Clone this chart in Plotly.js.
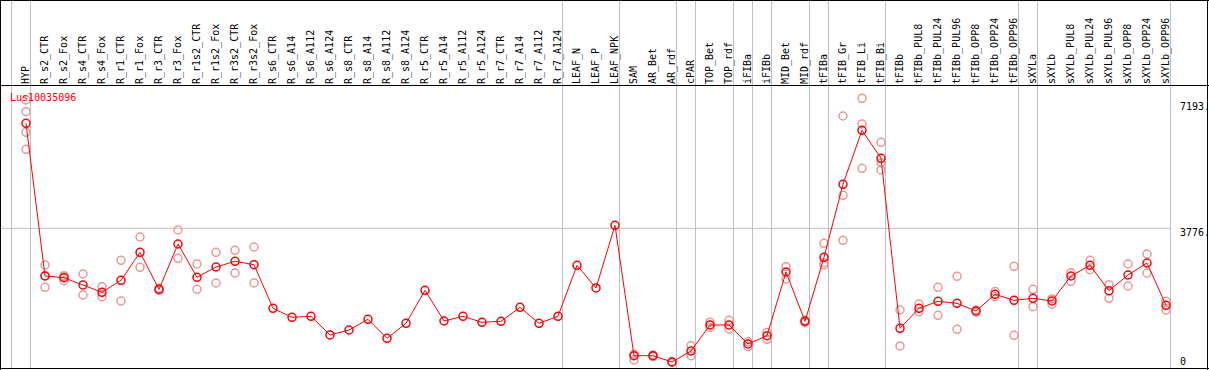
<!DOCTYPE html>
<html>
<head>
<meta charset="utf-8">
<script src="https://cdn.plot.ly/plotly-3.0.1.min.js"></script>
<style>
  html, body { margin: 0; padding: 0; background: #ffffff; }
  #chart { width: 1209px; height: 370px; }
</style>
</head>
<body>
<div id="chart"></div>
<script>
// ---------- data ----------
const geneName = "Lus10035096";

const categories = [
  "HYP", "R_s2_CTR", "R_s2_Fox", "R_s4_CTR", "R_s4_Fox", "R_r1_CTR", "R_r1_Fox",
  "R_r3_CTR", "R_r3_Fox", "R_r1s2_CTR", "R_r1s2_Fox", "R_r3s2_CTR", "R_r3s2_Fox",
  "R_s6_CTR", "R_s6_A14", "R_s6_A112", "R_s6_A124", "R_s8_CTR", "R_s8_A14",
  "R_s8_A112", "R_s8_A124", "R_r5_CTR", "R_r5_A14", "R_r5_A112", "R_r5_A124",
  "R_r7_CTR", "R_r7_A14", "R_r7_A112", "R_r7_A124", "LEAF_N", "LEAF_P", "LEAF_NPK",
  "SAM", "AR_Bet", "AR_rdf", "cPAR", "TOP_Bet", "TOP_rdf", "iFIBa", "iFIBb",
  "MID_Bet", "MID_rdf", "tFIBa", "tFIB_Gr", "tFIB_Li", "tFIB_Bi", "tFIBb",
  "tFIBb_PUL8", "tFIBb_PUL24", "tFIBb_PUL96", "tFIBb_OPP8", "tFIBb_OPP24", "tFIBb_OPP96",
  "sXYLa", "sXYLb", "sXYLb_PUL8", "sXYLb_PUL24", "sXYLb_PUL96", "sXYLb_OPP8",
  "sXYLb_OPP24", "sXYLb_OPP96"
];

const meanValues = [
  6622, 2483, 2437, 2239, 2041, 2366, 3125,
  2122, 3350, 2447, 2727, 2881, 2789,
  1607, 1363, 1391, 884, 1019, 1309,
  794, 1201, 2095, 1263, 1391, 1228,
  1255, 1634, 1201, 1391, 2773, 2158, 3857,
  323, 323, 152, 450, 1155, 1155, 640, 865,
  2591, 1255, 2990, 4969, 6432, 5674, 1065,
  1607, 1797, 1743, 1534, 1987, 1824,
  1878, 1805, 2483, 2773, 2085, 2510,
  2835, 1689
];

// individual replicate values (null = no replicate shown)
const rep1 = [
  7254, 2781, 2491, 2537, 2193, 2908, 3540,
  2150, 3730, 2808, 3125, 3180, 3269,
  null, null, null, null, null, null,
  null, null, null, null, null, null,
  null, null, null, null, null, null, null,
  206, 300, 140, 594, 1230, 1282, 567, 767,
  2735, 1230, 3369, 6820, 7300, 6107, 1561,
  1724, 2177, 2475, 1510, 2060, 2746,
  2122, 1860, 2573, 2908, 2247, 2808,
  3079, 1797
];
const rep2 = [
  6937, 2177, 2356, 1968, 1922, 1805, 2719,
  2095, 2963, 2122, 2293, 2564, 2293,
  null, null, null, null, null, null,
  null, null, null, null, null, null,
  null, null, null, null, null, null, null,
  360, 340, 165, 323, 1090, 1046, 700, 950,
  2402, 1280, 2844, 4671, 6603, 5554, 586,
  1516, 1418, 1038, 1560, 1920, 876,
  1651, 1720, 2339, 2654, 1878, 2212,
  2564, 1561
];
const rep3 = [
  6378, 2490, 2464, null, null, null, null,
  null, null, null, null, null, null,
  null, null, null, null, null, null,
  null, null, null, null, null, null,
  null, null, null, null, null, null, null,
  null, null, null, null, null, null, null, null,
  null, null, 2781, 3451, 5402, 5356, null,
  null, null, null, null, null, null,
  null, null, null, null, null, null,
  null, null
];
const rep4 = [
  5917, null, null, null, null, null, null,
  null, null, null, null, null, null,
  null, null, null, null, null, null,
  null, null, null, null, null, null,
  null, null, null, null, null, null, null,
  null, null, null, null, null, null, null, null,
  null, null, null, null, null, null, null,
  null, null, null, null, null, null,
  null, null, null, null, null, null,
  null, null
];

// indexes of categories followed by a vertical separator line
const separatorAfter = [0, 28, 31, 34, 35, 37, 38, 39, 41, 42, 45, 52, 53, 60];
const separatorBefore = [0];

const yTickVals = [7193, 3776, 0];
const yTickLabels = ["7193.", "3776.", "0"];
const gridValue = 3776;

// ---------- build ----------
const idx = categories.map((_, i) => i);

const repX = [], repY = [];
[rep1, rep2, rep3, rep4].forEach(arr => {
  arr.forEach((v, i) => { if (v !== null) { repX.push(i); repY.push(v); } });
});

const traceReps = {
  x: repX, y: repY, type: "scatter", mode: "markers",
  marker: { symbol: "circle-open", size: 8, color: "rgb(238,150,150)", line: { width: 1.5 } },
  hoverinfo: "skip", showlegend: false, cliponaxis: false
};
const traceMean = {
  x: idx, y: meanValues, type: "scatter", mode: "lines+markers",
  line: { color: "#ff0000", width: 1 },
  marker: { symbol: "circle-open", size: 8, color: "#ff0000", line: { width: 1.5 } },
  showlegend: false, cliponaxis: false
};

const W = 1209, H = 370;
const mL = 0, mR = 38, mT = 86, mB = 2;
const plotW = W - mL - mR, plotH = H - mT - mB;
const py = p => (H - mB - p) / plotH;   // pixel row -> paper y
const px = p => (p - mL) / plotW;       // pixel col -> paper x

const GRID = "#c0c0c0";
const shapes = [];
const sepOffset = 4.5 / 19;
separatorAfter.forEach(i => {
  shapes.push({ type: "line", xref: "x", yref: "paper", x0: i + sepOffset, x1: i + sepOffset,
    y0: py(368.5), y1: py(0), line: { color: GRID, width: 1 }, layer: "below" });
});
separatorBefore.forEach(i => {
  shapes.push({ type: "line", xref: "x", yref: "paper", x0: i - 14.5 / 19, x1: i - 14.5 / 19,
    y0: py(368.5), y1: py(0), line: { color: GRID, width: 1 }, layer: "below" });
});
shapes.push({ type: "line", xref: "paper", yref: "y", x0: px(0), x1: px(1170), y0: gridValue, y1: gridValue,
  line: { color: GRID, width: 1 }, layer: "below" });
// frame
const BLK = "#000000";
shapes.push({ type: "line", xref: "paper", yref: "paper", x0: px(0), x1: px(1209), y0: py(85.5), y1: py(85.5), line: { color: BLK, width: 1 } });
shapes.push({ type: "line", xref: "paper", yref: "paper", x0: px(0), x1: px(1209), y0: py(0.5), y1: py(0.5), line: { color: BLK, width: 1 } });
shapes.push({ type: "line", xref: "paper", yref: "paper", x0: px(0), x1: px(1209), y0: py(368.5), y1: py(368.5), line: { color: BLK, width: 1 } });
shapes.push({ type: "line", xref: "paper", yref: "paper", x0: px(0.5), x1: px(0.5), y0: py(0), y1: py(370), line: { color: BLK, width: 1 } });
shapes.push({ type: "line", xref: "paper", yref: "paper", x0: px(1207.5), x1: px(1207.5), y0: py(0), y1: py(370), line: { color: BLK, width: 1 } });

const FONT = "DejaVu Sans Mono, monospace";
const annotations = yTickVals.map((v, k) => ({
  xref: "paper", yref: "y", x: px(1178), y: v, xanchor: "left", yanchor: "middle",
  text: yTickLabels[k], showarrow: false, yshift: v === 0 ? 6 : -4.5,
  font: { family: FONT, size: 10, color: "#000000" }
}));
annotations.push({
  xref: "paper", yref: "paper", x: px(8), y: py(97), xanchor: "left", yanchor: "middle",
  text: geneName, showarrow: false, font: { family: FONT, size: 10, color: "#ff0000" }
});

const layout = {
  width: W, height: H,
  margin: { l: mL, r: mR, t: mT, b: mB, pad: 0 },
  paper_bgcolor: "#ffffff", plot_bgcolor: "#ffffff",
  showlegend: false,
  font: { family: FONT, size: 10, color: "#000000" },
  xaxis: {
    side: "top", range: [-26 / 19, (plotW - 26) / 19],
    tickmode: "array", tickvals: idx, ticktext: categories, tickangle: -90,
    ticks: "", showgrid: false, zeroline: false, showline: false,
    tickfont: { family: FONT, size: 10, color: "#000000" },
    ticklabelstandoff: 1, fixedrange: true
  },
  yaxis: {
    range: [-11, 7633], showgrid: false, zeroline: false, showline: false,
    showticklabels: false, ticks: "", fixedrange: true
  },
  shapes: shapes,
  annotations: annotations
};

Plotly.newPlot("chart", [traceReps, traceMean], layout, { displayModeBar: false, staticPlot: true });
</script>
</body>
</html>
